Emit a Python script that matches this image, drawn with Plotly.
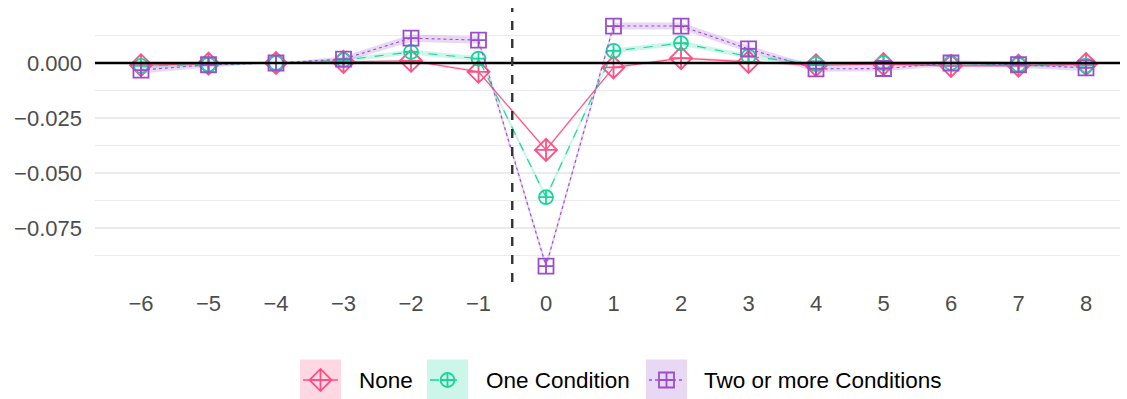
import plotly.graph_objects as go

# Event time relative to onset
rel_time = [-6, -5, -4, -3, -2, -1, 0, 1, 2, 3, 4, 5, 6, 7, 8]

# Point estimates by number of conditions
est_none = [-0.0010, -0.0003, 0.0000, 0.0005, 0.0010, -0.0040, -0.0395, -0.0020,
            0.0022, 0.0005, -0.0010, -0.0005, -0.0013, -0.0012, -0.0005]
est_one = [-0.0013, -0.0007, 0.0000, 0.0013, 0.0050, 0.0020, -0.0610, 0.0055,
           0.0090, 0.0030, -0.0005, 0.0000, 0.0000, -0.0008, -0.0012]
est_two = [-0.0032, -0.0008, 0.0000, 0.0018, 0.0113, 0.0104, -0.0923, 0.0168,
           0.0168, 0.0064, -0.0027, -0.0025, 0.0000, -0.0008, -0.0022]

# Half-widths of the confidence bands
ci_none = [0.0006, 0.0005, 0.0000, 0.0005, 0.0006, 0.0006, 0.0007, 0.0006,
           0.0006, 0.0005, 0.0005, 0.0005, 0.0005, 0.0005, 0.0006]
ci_one = [0.0011, 0.0009, 0.0000, 0.0009, 0.0011, 0.0011, 0.0012, 0.0011,
          0.0011, 0.0010, 0.0009, 0.0009, 0.0009, 0.0010, 0.0010]
ci_two = [0.0016, 0.0013, 0.0000, 0.0013, 0.0016, 0.0016, 0.0018, 0.0016,
          0.0016, 0.0015, 0.0013, 0.0013, 0.0013, 0.0014, 0.0015]

group_names = ["None", "One Condition", "Two or more Conditions"]
y_ticks = [0.0, -0.025, -0.050, -0.075]

W, H = 1127, 399
L, R, T = 95, 7, 8
PANEL_BOTTOM = 282  # pixel row of the panel's lower edge

series = [
    dict(name=group_names[0], est=est_none, ci=ci_none, color="#FF4F84",
         band="rgba(255,79,132,0.22)", dash="solid", symbol="diamond-cross-open", size=17),
    dict(name=group_names[1], est=est_one, ci=ci_one, color="#17D49A",
         band="rgba(23,212,154,0.22)", dash="dash", symbol="circle-cross-open", size=14),
    dict(name=group_names[2], est=est_two, ci=ci_two, color="#9B4DCE",
         band="rgba(155,77,206,0.22)", dash="dot", symbol="square-cross-open", size=15),
]

fig = go.Figure()

for s in series:
    upper = [e + c for e, c in zip(s["est"], s["ci"])]
    lower = [e - c for e, c in zip(s["est"], s["ci"])]
    fig.add_trace(go.Scatter(x=rel_time, y=upper, mode="lines", line=dict(width=0),
                             showlegend=False, hoverinfo="skip"))
    fig.add_trace(go.Scatter(x=rel_time, y=lower, mode="lines", line=dict(width=0),
                             fill="tonexty", fillcolor=s["band"], showlegend=False,
                             hoverinfo="skip"))

for s in series:
    fig.add_trace(go.Scatter(
        x=rel_time, y=s["est"], mode="lines+markers", name=s["name"], showlegend=False,
        line=dict(color=s["color"], width=1.1, dash=s["dash"]),
        marker=dict(symbol=s["symbol"], size=s["size"], color=s["color"],
                    line=dict(color=s["color"], width=1.8)),
    ))

plot_h = H - T
dom_bottom = (H - PANEL_BOTTOM) / plot_h

x_lo = -6 - (141 - L) / 67.5
x_hi = 8 + (W - R - 1086) / 67.5
px_per_unit = 2200.0
y_hi = (63 - T) / px_per_unit
y_lo = (63 - PANEL_BOTTOM) / px_per_unit

TICK_SIZE = 22
fig.update_layout(
    width=W, height=H,
    margin=dict(l=L, r=R, t=T, b=0),
    paper_bgcolor="white", plot_bgcolor="white",
    font=dict(family="Liberation Sans, Arial, sans-serif", color="#4D4D4D", size=TICK_SIZE),
    showlegend=False,
    xaxis=dict(range=[x_lo, x_hi], tickmode="array", tickvals=rel_time,
               showgrid=False, zeroline=False, showline=False, ticks="",
               ticklabelstandoff=6, tickfont=dict(size=TICK_SIZE, color="#4D4D4D")),
    yaxis=dict(domain=[dom_bottom, 1], range=[y_lo, y_hi], tickmode="array",
               tickvals=y_ticks, tickformat=".3f",
               showgrid=True, gridcolor="#EBEBEB", gridwidth=1.6,
               minor=dict(tickmode="array",
                          tickvals=[0.0125, -0.0125, -0.0375, -0.0625, -0.0875],
                          showgrid=True, gridcolor="#EBEBEB", gridwidth=1.0, ticks=""),
               zeroline=False, showline=False, ticks="",
               ticklabelstandoff=12, tickfont=dict(size=TICK_SIZE, color="#4D4D4D")),
    # overlay axes in pixel units for the legend strip
    xaxis2=dict(domain=[0, 1], range=[L, W - R], visible=False, fixedrange=True),
    yaxis2=dict(domain=[0, 0.2], range=[H, H - 0.2 * plot_h], visible=False,
                fixedrange=True, anchor="x2"),
)

# zero reference line and event-onset marker
fig.add_hline(y=0, line=dict(color="black", width=2.6))
fig.add_vline(x=-0.5, line=dict(color="#333333", width=2.4, dash="dash"))

# legend: key boxes, sample lines, markers and labels
key_left = [300, 427, 646]
label_left = [357, 484, 702]
key_size = 41
key_mid_y = 380
for s, kx, lx in zip(series, key_left, label_left):
    fig.add_shape(type="rect", xref="x2", yref="y2", x0=kx, x1=kx + key_size,
                  y0=key_mid_y - key_size / 2, y1=key_mid_y + key_size / 2,
                  fillcolor=s["band"], line=dict(width=0), layer="below")
    fig.add_shape(type="line", xref="x2", yref="y2", x0=kx + 3, x1=kx + key_size - 3,
                  y0=key_mid_y, y1=key_mid_y,
                  line=dict(color=s["color"], width=1.3, dash=s["dash"]))
    fig.add_trace(go.Scatter(
        x=[kx + key_size / 2], y=[key_mid_y], xaxis="x2", yaxis="y2", mode="markers",
        showlegend=False, hoverinfo="skip",
        marker=dict(symbol=s["symbol"], size=s["size"], color=s["color"],
                    line=dict(color=s["color"], width=1.8)),
    ))
    fig.add_annotation(x=lx, y=key_mid_y, xref="x2", yref="y2", text=s["name"],
                       showarrow=False, xanchor="left", yanchor="middle",
                       font=dict(size=22.5, color="black"))

fig.write_html("out.html")
